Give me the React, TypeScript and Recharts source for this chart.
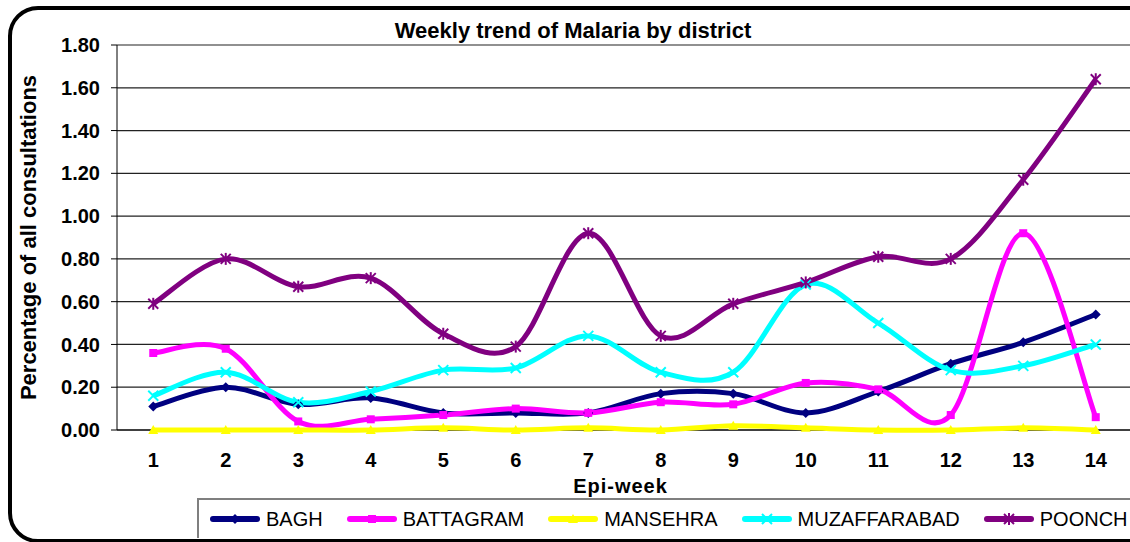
import React from 'react';
import { LineChart, Line, XAxis, YAxis, CartesianGrid } from 'recharts';

// ── data ──────────────────────────────────────────────────
const weeks = [1, 2, 3, 4, 5, 6, 7, 8, 9, 10, 11, 12, 13, 14];
const bagh = [0.11, 0.2, 0.12, 0.15, 0.08, 0.08, 0.08, 0.17, 0.17, 0.08, 0.18, 0.31, 0.41, 0.54];
const battagram = [0.36, 0.38, 0.04, 0.05, 0.07, 0.1, 0.08, 0.13, 0.12, 0.22, 0.19, 0.07, 0.92, 0.06];
const mansehra = [0, 0, 0, 0, 0.01, 0, 0.01, 0, 0.02, 0.01, 0, 0, 0.01, 0];
const muzaffarabad = [0.16, 0.27, 0.13, 0.18, 0.28, 0.29, 0.44, 0.27, 0.27, 0.68, 0.5, 0.28, 0.3, 0.4];
const poonch = [0.59, 0.8, 0.67, 0.71, 0.45, 0.39, 0.92, 0.44, 0.59, 0.69, 0.81, 0.8, 1.17, 1.64];
const yTicks = [0, 0.2, 0.4, 0.6, 0.8, 1.0, 1.2, 1.4, 1.6, 1.8];

const series = [
  { name: 'BAGH', values: bagh, color: '#000080', shape: 'diamond' },
  { name: 'BATTAGRAM', values: battagram, color: '#FF00FF', shape: 'square' },
  { name: 'MANSEHRA', values: mansehra, color: '#FFFF00', shape: 'triangle' },
  { name: 'MUZAFFARABAD', values: muzaffarabad, color: '#00FFFF', shape: 'cross' },
  { name: 'POONCH', values: poonch, color: '#800080', shape: 'star' },
];

const data = weeks.map((w, i) => {
  const row: Record<string, number> = { week: w };
  series.forEach((s) => { row[s.name] = s.values[i]; });
  return row;
});

// category boundaries for the little tick marks under the axis
const edges = [...weeks.map((w) => w - 0.5), weeks[weeks.length - 1] + 0.5];

const FONT = 'Arial, "Liberation Sans", sans-serif';

// Excel style smoothed line (Catmull-Rom as cubic beziers)
const excelSmooth = (context: any) => {
  let pts: number[][] = [];
  return {
    areaStart() {},
    areaEnd() {},
    lineStart() { pts = []; },
    point(x: number, y: number) { pts.push([+x, +y]); },
    lineEnd() {
      const n = pts.length;
      if (!n) return;
      context.moveTo(pts[0][0], pts[0][1]);
      for (let i = 0; i < n - 1; i++) {
        const p0 = pts[i - 1] || pts[i];
        const p1 = pts[i];
        const p2 = pts[i + 1];
        const p3 = pts[i + 2] || p2;
        context.bezierCurveTo(
          p1[0] + (p2[0] - p0[0]) / 6, p1[1] + (p2[1] - p0[1]) / 6,
          p2[0] - (p3[0] - p1[0]) / 6, p2[1] - (p3[1] - p1[1]) / 6,
          p2[0], p2[1]
        );
      }
    },
  };
};

function Marker({ cx, cy, shape, color }: { cx: number; cy: number; shape: string; color: string }) {
  if (shape === 'diamond') {
    return <polygon points={`${cx},${cy - 5} ${cx + 5},${cy} ${cx},${cy + 5} ${cx - 5},${cy}`} fill={color} />;
  }
  if (shape === 'square') {
    return <rect x={cx - 4} y={cy - 4} width={8} height={8} fill={color} />;
  }
  if (shape === 'triangle') {
    return <polygon points={`${cx},${cy - 5} ${cx + 5},${cy + 4} ${cx - 5},${cy + 4}`} fill={color} />;
  }
  const d = 5;
  return (
    <g stroke={color} strokeWidth={2}>
      <line x1={cx - d} y1={cy - d} x2={cx + d} y2={cy + d} />
      <line x1={cx - d} y1={cy + d} x2={cx + d} y2={cy - d} />
      {shape === 'star' && <line x1={cx} y1={cy - d - 1} x2={cx} y2={cy + d + 1} />}
    </g>
  );
}

const YLabel = (props: any) => {
  const vb = props.viewBox || { x: 57, y: 45, height: 385 };
  const cx = vb.x - 29;
  const cy = vb.y + vb.height / 2;
  return (
    <text x={cx} y={cy} transform={`rotate(-90 ${cx} ${cy})`} textAnchor="middle" dominantBaseline="central"
      style={{ fontFamily: FONT, fontSize: 22, fontWeight: 700, fill: '#000' }}>
      Percentage of all consultations
    </text>
  );
};

const XLabel = (props: any) => {
  const vb = props.viewBox || { x: 117, y: 430, width: 1015 };
  return (
    <text x={vb.x + vb.width / 2 - 4} y={vb.y + 63} textAnchor="middle"
      style={{ fontFamily: FONT, fontSize: 20, fontWeight: 700, fill: '#000', letterSpacing: 1 }}>
      Epi-week
    </text>
  );
};

export default function App() {
  return (
    <div style={{ position: 'absolute', left: 0, top: 0, width: 1130, height: 542, overflow: 'hidden', background: '#fff' }}>
      <LineChart
        width={1150}
        height={542}
        data={data}
        margin={{ top: 45, right: 18, left: 57, bottom: 82 }}
      >
        <CartesianGrid vertical={false} stroke="#222" strokeWidth={1.2} />
        {/* darker base line at 0.00, kept under the series */}
        <CartesianGrid vertical={false} horizontalValues={[0]} stroke="#404040" strokeWidth={2.2} />
        <XAxis
          xAxisId="edge"
          type="number"
          dataKey="week"
          domain={[0.5, 14.5]}
          ticks={edges}
          tick={false}
          axisLine={false}
          tickLine={{ stroke: '#000', strokeWidth: 1 }}
          tickSize={6}
          height={0}
        />
        <XAxis
          type="number"
          dataKey="week"
          domain={[0.5, 14.5]}
          ticks={weeks}
          interval={0}
          height={30}
          axisLine={false}
          tickLine={false}
          tickSize={0}
          tickMargin={23}
          tick={{ fill: '#000', fontSize: 20, fontWeight: 700, fontFamily: FONT }}
          label={<XLabel />}
        />
        <YAxis
          domain={[0, 1.8]}
          ticks={yTicks}
          interval={0}
          width={60}
          axisLine={{ stroke: '#000', strokeWidth: 1 }}
          tickLine={{ stroke: '#000', strokeWidth: 1 }}
          tickSize={6}
          tickMargin={11}
          tickFormatter={(v: number) => v.toFixed(2)}
          tick={{ fill: '#000', fontSize: 20, fontWeight: 700, fontFamily: FONT }}
          label={<YLabel />}
        />
        {series.map((s) => (
          <Line
            key={s.name}
            dataKey={s.name}
            type={excelSmooth as any}
            stroke={s.color}
            strokeWidth={5}
            isAnimationActive={false}
            dot={(p: any) => <Marker key={`${s.name}-${p.index}`} cx={p.cx} cy={p.cy} shape={s.shape} color={s.color} />}
            activeDot={false}
          />
        ))}
      </LineChart>

      {/* title */}
      <div style={{
        position: 'absolute', left: 323, width: 500, top: 20, lineHeight: '22px', textAlign: 'center',
        fontFamily: FONT, fontSize: 22, fontWeight: 700, color: '#000',
      }}>
        Weekly trend of Malaria by district
      </div>

      {/* legend */}
      <div style={{
        position: 'absolute', left: 197, top: 498, width: 1000, height: 40, boxSizing: 'border-box',
        borderTop: '2px solid #7f7f7f', borderLeft: '2px solid #7f7f7f',
        display: 'flex', alignItems: 'center', paddingLeft: 11, gap: 24,
        fontFamily: FONT, fontSize: 20, color: '#000', background: '#fff',
      }}>
        {series.map((s) => (
          <div key={s.name} style={{ display: 'flex', alignItems: 'center', gap: 6 }}>
            <svg width={50} height={14}>
              <line x1={3} y1={7} x2={47} y2={7} stroke={s.color} strokeWidth={6} strokeLinecap="round" />
              <Marker cx={25} cy={7} shape={s.shape} color={s.color} />
            </svg>
            <span>{s.name}</span>
          </div>
        ))}
      </div>

      {/* rounded chart frame */}
      <div style={{
        position: 'absolute', left: 8, top: 6, width: 1160, height: 537, boxSizing: 'border-box',
        border: '4px solid #000', borderRadius: 30, pointerEvents: 'none',
      }} />
    </div>
  );
}
